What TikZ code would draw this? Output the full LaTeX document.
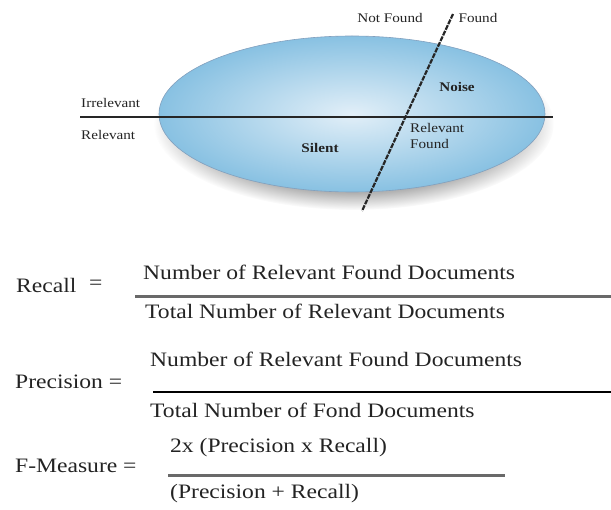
\documentclass[tikz,border=0pt]{standalone}
\usepackage{fontspec}
\setmainfont[FakeStretch=1.15]{Liberation Serif}
\usetikzlibrary{fadings}
\definecolor{ellin}{RGB}{226,239,248}
\definecolor{ellout}{RGB}{136,193,226}
\definecolor{ellrim}{RGB}{130,160,190}
\definecolor{txtgray}{RGB}{35,35,35}
\definecolor{bargray}{RGB}{105,105,105}
\tikzset{
  lbl/.style={font=\fontsize{13.2}{15}\selectfont, text=txtgray, inner sep=0pt},
  bold/.style={font=\fontsize{13.2}{15}\selectfont\bfseries, text=txtgray, inner sep=0pt},
  frm/.style={font=\fontsize{20.5}{22}\selectfont, text=txtgray, inner sep=0pt, anchor=west},
  hline/.style={line width=2.2pt, black!85},
  dline/.style={line width=2.2pt, black!85, dash pattern=on 5pt off 1.2pt},
  fbar/.style={line width=3pt, bargray},
}
\begin{document}
\begin{tikzpicture}[x=1pt,y=-1pt]
\useasboundingbox (0,0) rectangle (611,510);
% ellipse shadow
\fill[black!30, path fading=circle with fuzzy edge 20 percent] (354,124) ellipse (200 and 86);
% ellipse
\shade[inner color=ellin, outer color=ellout, draw=ellrim, line width=0.6pt] (352,114) ellipse (193 and 78);
% lines
\coordinate (hl) at (80,117);
\coordinate (hr) at (553,117);
\coordinate (dt) at (453,14);
\coordinate (db) at (362,211);
\draw[hline] (hl) -- (hr);
\draw[dline] (dt) -- (db);
% labels
\node[lbl] (nf) at (390,18) {Not Found};
\node[lbl] (fd) at (478,18) {Found};
\node[lbl, anchor=west] (irr) at (81,103) {Irrelevant};
\node[lbl, anchor=west] (rel) at (81,135) {Relevant};
\node[bold] (noise) at (457,87) {Noise};
\node[lbl, anchor=west, align=left] (rf) at (410,136) {Relevant\\[1pt]Found};
\node[bold] (sil) at (320,148) {Silent};
% Recall
\node[frm] (rec) at (16,285) {Recall};
\node[frm] (req) at (89,285) {=};
\node[frm] (rnum) at (143,272) {Number of Relevant Found Documents};
\node[frm] (rden) at (145,311) {Total Number of Relevant Documents};
\coordinate (rl1) at (135,297);
\coordinate (rl2) at (611,297);
\draw[fbar] (rl1) -- (rl2);
% Precision
\node[frm] (pre) at (15,382) {Precision =};
\node[frm] (pnum) at (150,359) {Number of Relevant Found Documents};
\node[frm] (pden) at (150,410) {Total Number of Fond Documents};
\coordinate (pl1) at (153,392);
\coordinate (pl2) at (611,392);
\draw[line width=2.5pt, black] (pl1) -- (pl2);
% F-Measure
\node[frm] (fm) at (15,466) {F-Measure =};
\node[frm] (fnum) at (170,448) {2x (Precision x Recall)};
\node[frm] (fden) at (170,494) {(Precision + Recall)};
\coordinate (fl1) at (168,476);
\coordinate (fl2) at (505,476);
\draw[fbar] (fl1) -- (fl2);
\end{tikzpicture}
\end{document}
